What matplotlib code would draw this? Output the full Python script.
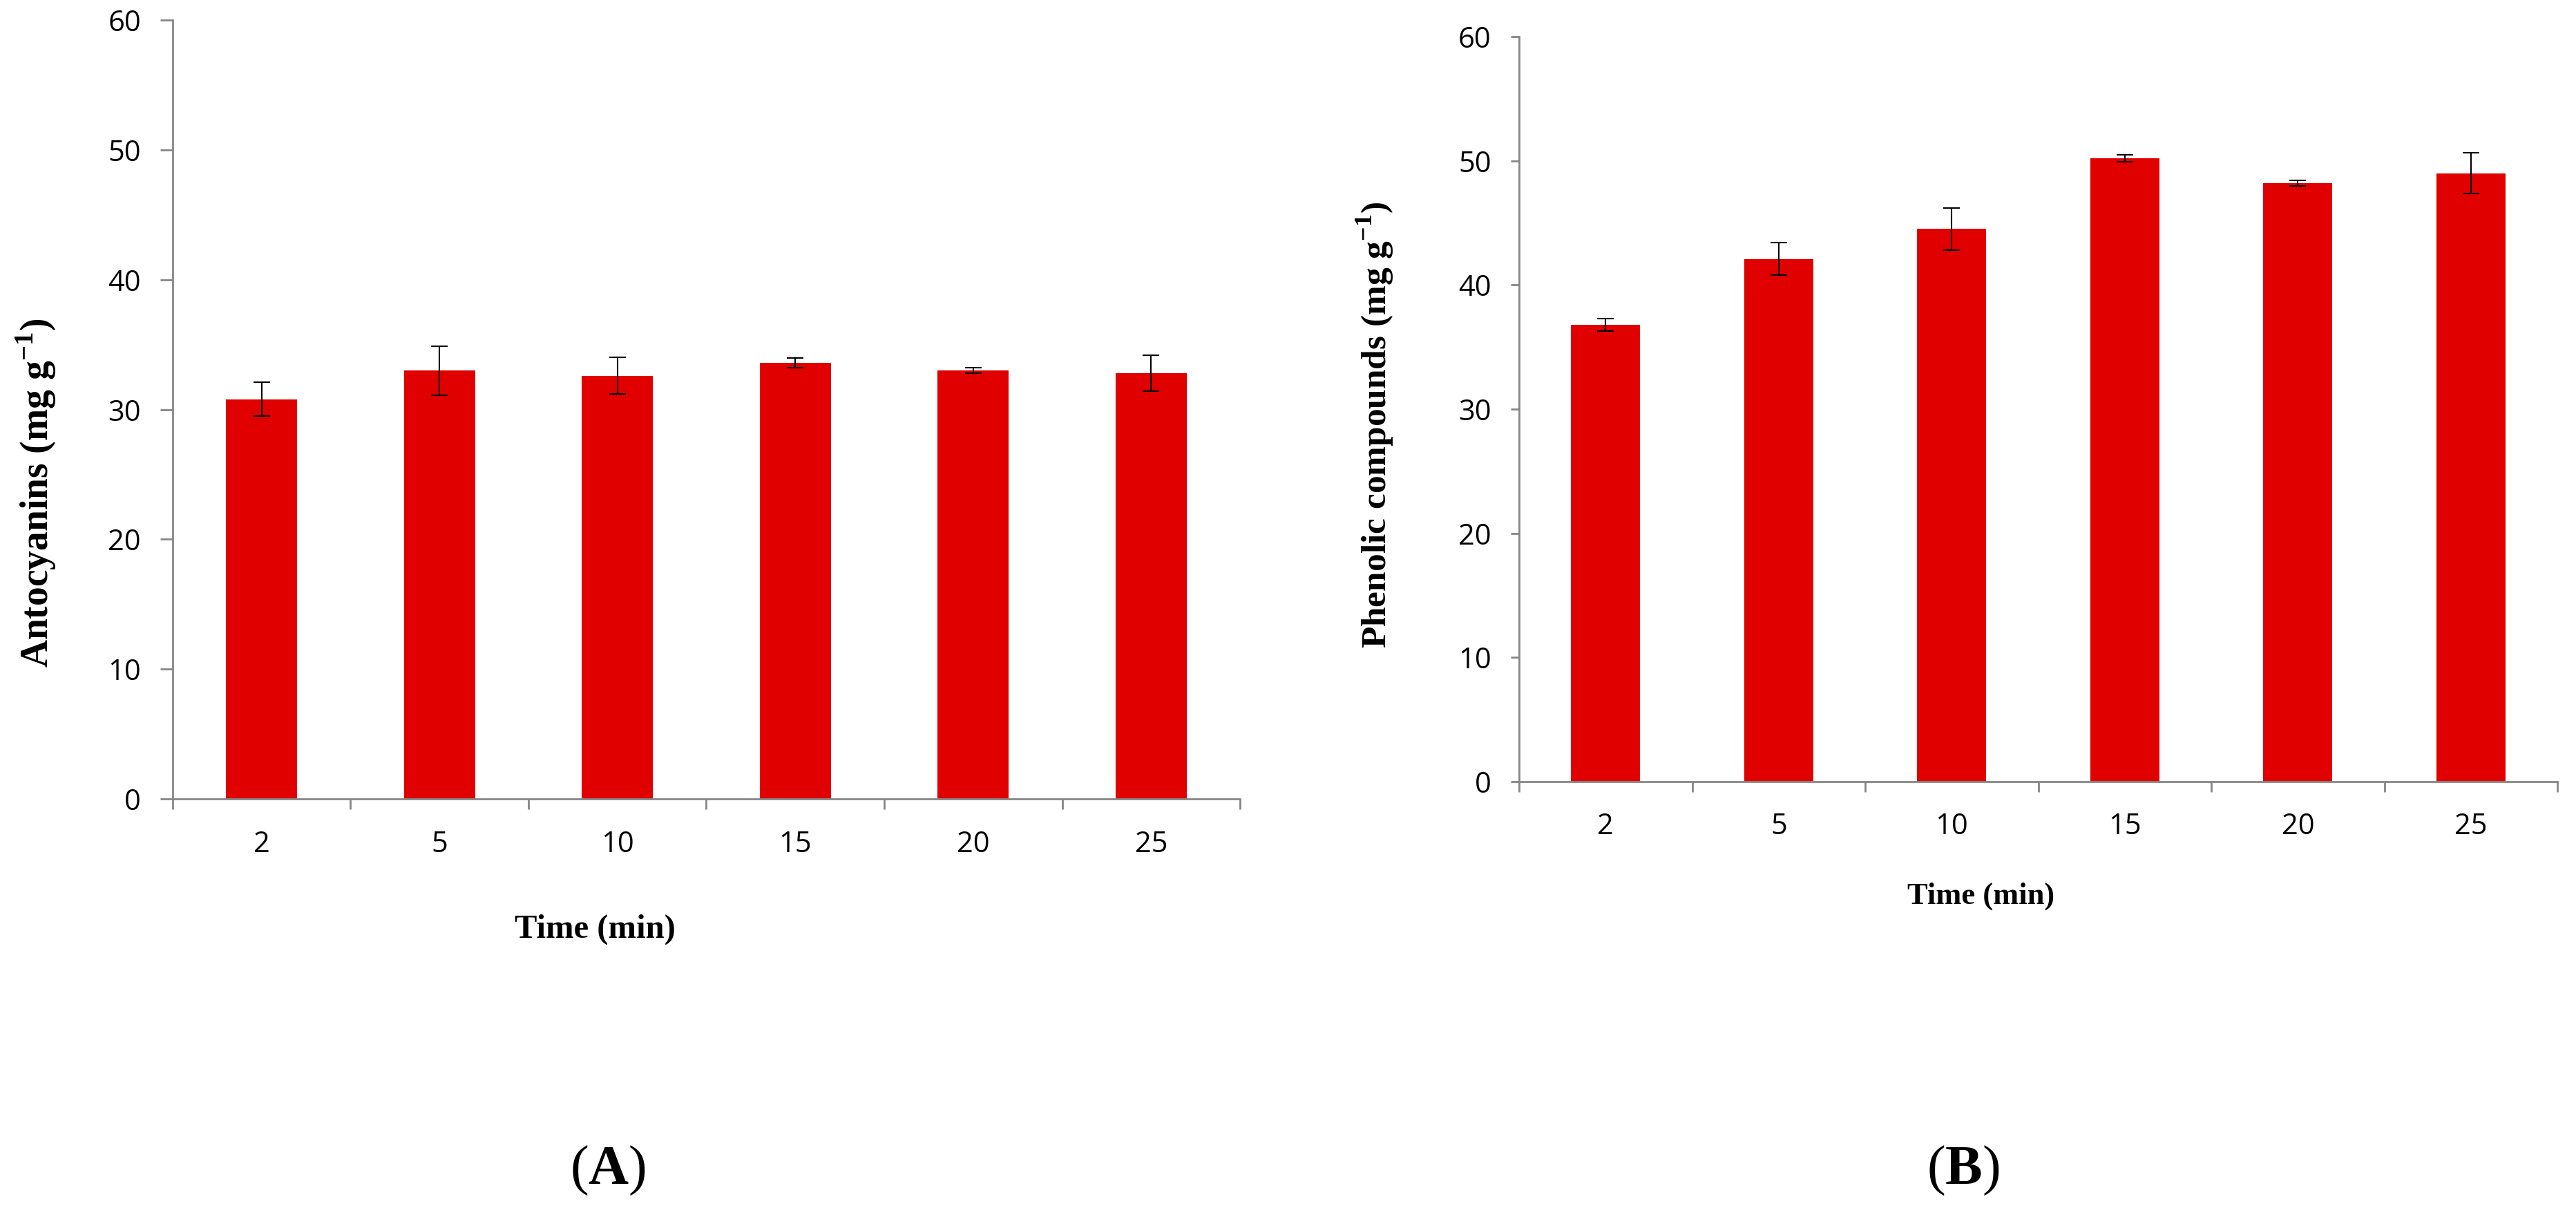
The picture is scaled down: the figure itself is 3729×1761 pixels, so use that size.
import numpy as np
import matplotlib
matplotlib.use('Agg')
import matplotlib.pyplot as plt

# data
times = ['2', '5', '10', '15', '20', '25']
antocyanins = [30.8, 33.0, 32.6, 33.6, 33.0, 32.8]
antocyanins_err = [1.3, 1.9, 1.4, 0.35, 0.22, 1.4]
phenolics = [36.8, 42.1, 44.5, 50.2, 48.2, 49.0]
phenolics_err = [0.5, 1.3, 1.7, 0.28, 0.22, 1.65]
yticks = [0, 10, 20, 30, 40, 50, 60]

BAR = '#e00000'
AXIS = '#868686'

plt.rcParams['mathtext.fontset'] = 'custom'
plt.rcParams['mathtext.rm'] = 'Liberation Serif:bold'
plt.rcParams['mathtext.bf'] = 'Liberation Serif:bold'

fig = plt.figure(figsize=(37.29, 17.61), dpi=100)


def panel(rect, vals, errs, ytick_len):
    ax = fig.add_axes(rect)
    x = np.arange(len(vals))
    ax.bar(x, vals, width=0.4, color=BAR, yerr=errs, ecolor='black',
           capsize=8.6, error_kw={'elinewidth': 1.5, 'capthick': 1.5})
    ax.set_xlim(-0.5, len(vals) - 0.5)
    ax.set_ylim(0, 60)
    ax.set_yticks(yticks)
    ax.set_xticks(x)
    ax.set_xticklabels(times)
    ax.set_xticks(np.arange(-0.5, len(vals)), minor=True)
    for s in ['top', 'right']:
        ax.spines[s].set_visible(False)
    for s in ['left', 'bottom']:
        ax.spines[s].set_color(AXIS)
        ax.spines[s].set_linewidth(2.0)
    ax.tick_params(axis='x', which='major', length=0, pad=32, labelsize=30)
    ax.tick_params(axis='x', which='minor', length=11, width=2.0, color=AXIS, direction='out')
    ax.tick_params(axis='y', length=ytick_len, width=2.0, color=AXIS, pad=20, labelsize=30)
    for lab in ax.get_xticklabels() + ax.get_yticklabels():
        lab.set_family(['Open Sans', 'DejaVu Sans'])
    return ax


axA = panel([0.0670, 0.3435, 0.4144, 0.6400], antocyanins, antocyanins_err, 13)
axB = panel([0.5897, 0.3578, 0.4031, 0.6121], phenolics, phenolics_err, 9)

serif = 'Liberation Serif'
fig.text(0.014, 0.595, r'Antocyanins (mg g$^{-1}$)', rotation=90, ha='center', va='center',
         family=serif, weight='bold', fontsize=40)
fig.text(0.2309, 0.2365, 'Time (min)', ha='center', va='center',
         family=serif, weight='bold', fontsize=35)
fig.text(0.534, 0.651, r'Phenolic compounds (mg g$^{-1}$)', rotation=90, ha='center', va='center',
         family=serif, weight='bold', fontsize=37)
fig.text(0.769, 0.2635, 'Time (min)', ha='center', va='center',
         family=serif, weight='bold', fontsize=32)

fig.text(0.236, 0.038, r'($\mathbf{A}$)', ha='center', va='center', family=serif, fontsize=58)
fig.text(0.762, 0.038, r'($\mathbf{B}$)', ha='center', va='center', family=serif, fontsize=58)

fig.savefig('out.png', dpi=100)
